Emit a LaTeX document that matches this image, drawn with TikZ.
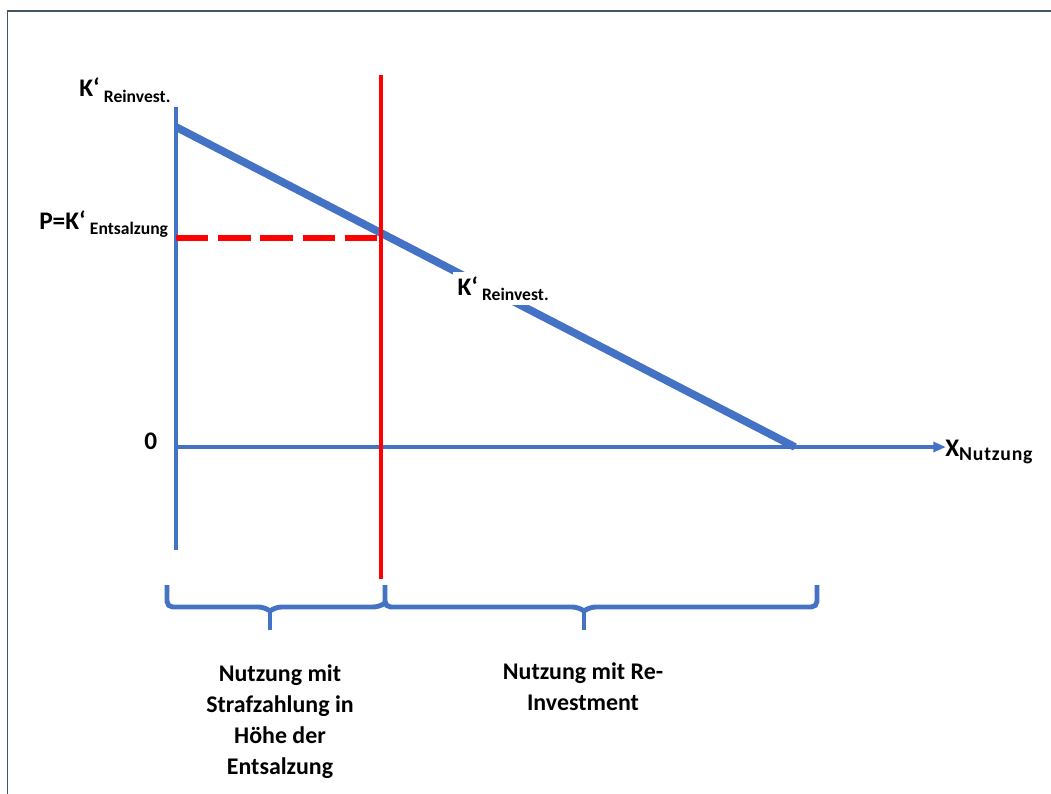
\documentclass[tikz,border=0pt]{standalone}
\usepackage{fontspec}
\setmainfont{Carlito}
\usetikzlibrary{arrows.meta}
\definecolor{axisblue}{HTML}{4472C4}
\definecolor{framegray}{HTML}{44546A}
\newcommand{\subtxt}[1]{\,\raisebox{-4pt}{\fontsize{12.5}{14}\selectfont #1}}
\tikzset{
  lbl/.style={font=\bfseries\fontsize{18}{20}\selectfont, inner sep=0pt},
  bottomlbl/.style={font=\bfseries\fontsize{17}{22}\selectfont, align=center, inner sep=0pt},
  brace/.style={axisblue, line width=3.5pt, rounded corners=4pt}
}
\begin{document}
\begin{tikzpicture}[x=0.025cm,y=-0.025cm]
	\useasboundingbox (0,0) rectangle (1051,794);
	\draw[framegray,line width=0.8pt] (7.5,794) -- (7.5,11) -- (1051,11);

	% axes
	\draw[axisblue,line width=3pt] (176,107) -- (176,550);
	\draw[axisblue,line width=2.2pt,-{Triangle[length=9pt,width=7pt]}] (176,447) -- (946,447);

	% K' Reinvest.
	\draw[axisblue,line width=5.5pt] (176,127) -- (795,447);
	\node[lbl,fill=white,inner sep=3pt,anchor=base west] (kmid) at (453,295) {K‘\subtxt{Reinvest.}};

	% Preis = Entsalzungskosten
	\draw[red,line width=2.2pt] (381,75) -- (381,579);
	\draw[red,line width=4.3pt,dash pattern=on 23pt off 7pt] (176,238) -- (381,238);

	\node[lbl,anchor=base west] (ktop) at (79,97) {K‘\subtxt{Reinvest.}};
	\node[lbl,anchor=base west] (pk) at (39,229) {P=K‘\subtxt{Entsalzung}};
	\node[lbl,anchor=base west] (null) at (144,449) {0};
	\node[lbl,anchor=base west] (xn) at (945,456) {X{\raisebox{-3pt}{\fontsize{14}{16}\selectfont\addfontfeature{LetterSpace=4}Nutzung}}};

	% Klammern
	\draw[brace] (167,585) -- (167,607) -- (264,607) -- (270,611);
	\draw[brace] (270,611) -- (276,607) -- (379,607) -- (385,603);
	\draw[axisblue,line width=3.5pt] (270,609) -- (270,630);
	\draw[brace] (385,585) -- (385,607) -- (578,607) -- (584,611);
	\draw[brace] (584,611) -- (590,607) -- (817,607) -- (817,585);
	\draw[axisblue,line width=3.5pt] (584,609) -- (584,630);

	\node[bottomlbl] (links) at (280,722) {Nutzung mit\\Strafzahlung in\\Höhe der\\Entsalzung};
	\node[bottomlbl] (rechts) at (583,687) {Nutzung mit Re-\\Investment};
\end{tikzpicture}
\end{document}
